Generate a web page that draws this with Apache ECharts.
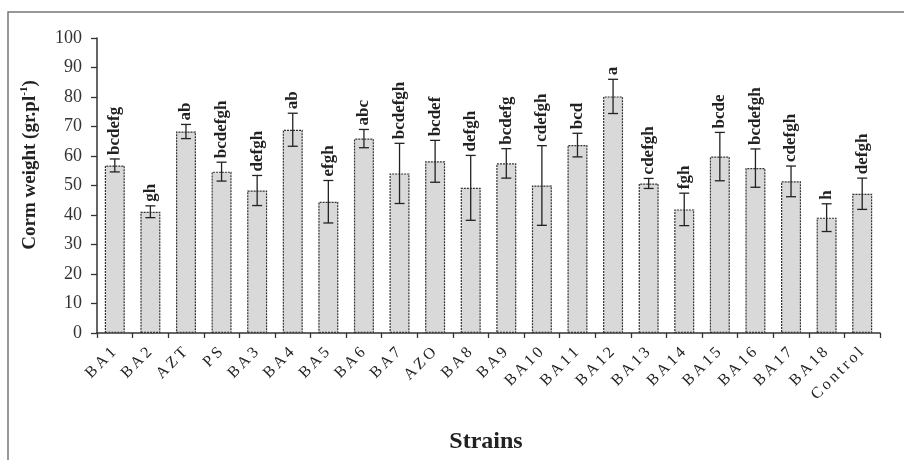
<!DOCTYPE html>
<html>
<head>
<meta charset="utf-8">
<script src="https://cdn.jsdelivr.net/npm/echarts@6/dist/echarts.min.js"></script>
<style>html,body{margin:0;padding:0;background:#fff;}#c{width:904px;height:460px;}</style>
</head>
<body>
<div id="c"></div>
<script>
const categories = ['BA1','BA2','AZT','PS','BA3','BA4','BA5','BA6','BA7','AZO','BA8','BA9','BA10','BA11','BA12','BA13','BA14','BA15','BA16','BA17','BA18','Control'];
const means = [56.8, 41.1, 68.3, 54.7, 48.3, 68.9, 44.5, 65.9, 54.1, 58.2, 49.2, 57.5, 50.0, 63.7, 80.2, 50.7, 41.9, 59.8, 55.9, 51.4, 39.1, 47.2];
const errors = [2.2, 2.0, 2.4, 3.2, 5.1, 5.6, 7.2, 3.1, 10.2, 7.1, 11.0, 5.0, 13.5, 4.0, 5.8, 1.7, 5.5, 8.2, 6.5, 5.2, 4.7, 5.3];
const letters = ['bcdefg','gh','ab','bcdefgh','defgh','ab','efgh','abc','bcdefgh','bcdef','defgh','bcdefg','cdefgh','bcd','a','cdefgh','fgh','bcde','bcdefgh','cdefgh','h','defgh'];
const yTicks = [0,10,20,30,40,50,60,70,80,90,100];

const SERIF = '"Liberation Serif", "DejaVu Serif", serif';
const chart = echarts.init(document.getElementById('c'));
const errData = categories.map((c, i) => [i, means[i], errors[i], letters[i]]);

chart.setOption({
  animation: false,
  backgroundColor: '#fff',
  grid: { left: 97, right: 24, top: 38, bottom: 127, containLabel: false },
  xAxis: {
    type: 'category',
    data: categories,
    boundaryGap: true,
    axisLine: { lineStyle: { color: '#333', width: 1.5 } },
    axisTick: { show: true, length: 5, lineStyle: { color: '#333', width: 1.3 } },
    axisLabel: {
      rotate: 45,
      margin: 16,
      color: '#222',
      interval: 0,
      formatter: v => v.split('').map(ch => '{c|' + ch + '}').join(''),
      rich: { c: { fontFamily: SERIF, fontSize: 16, color: '#222', padding: [0, 1.5, 0, 1.5] } }
    }
  },
  yAxis: {
    type: 'value',
    min: 0, max: 100, interval: 10,
    splitLine: { show: false },
    axisLine: { show: true, lineStyle: { color: '#333', width: 1.5 } },
    axisTick: { show: true, length: 6, lineStyle: { color: '#333', width: 1.3 } },
    axisLabel: {
      margin: 15, color: '#333', fontFamily: SERIF, fontSize: 18,
      formatter: v => yTicks.indexOf(v) >= 0 ? String(v) : ''
    }
  },
  graphic: [
    { type: 'rect', shape: { x: 8, y: 12, width: 910, height: 470 }, style: { fill: 'none', stroke: '#777', lineWidth: 1.5 }, silent: true },
    { type: 'text', x: 30, y: 165, rotation: Math.PI / 2,
      style: {
        text: '{m|Corm weight (gr.pl}{s|-1}{m|)}',
        align: 'center', verticalAlign: 'middle',
        rich: {
          m: { fontFamily: SERIF, fontSize: 19, fontWeight: 'bold', fill: '#222', lineHeight: 22 },
          s: { fontFamily: SERIF, fontSize: 11, fontWeight: 'bold', fill: '#222', verticalAlign: 'top', lineHeight: 22 }
        }
      }
    },
    { type: 'text', x: 486, y: 442,
      style: { text: 'Strains', fontFamily: SERIF, fontSize: 24, fontWeight: 'bold', fill: '#222', align: 'center', verticalAlign: 'middle' } }
  ],
  series: [
    {
      type: 'bar',
      data: means,
      barWidth: 20,
      z: 2,
      itemStyle: { color: '#d9d9d9', borderColor: '#333', borderWidth: 1.2, borderType: [2, 1] }
    },
    {
      type: 'custom',
      data: errData,
      z: 5,
      renderItem: function (params, api) {
        const i = api.value(0), m = api.value(1), e = api.value(2);
        const top = api.coord([i, m + e]);
        const bot = api.coord([i, m - e]);
        const x = top[0];
        const cap = 5;
        const ls = { stroke: '#222', lineWidth: 1.3 };
        return {
          type: 'group',
          children: [
            { type: 'line', shape: { x1: x, y1: top[1], x2: x, y2: bot[1] }, style: ls },
            { type: 'line', shape: { x1: x - cap, y1: top[1], x2: x + cap, y2: top[1] }, style: ls },
            { type: 'line', shape: { x1: x - cap, y1: bot[1], x2: x + cap, y2: bot[1] }, style: ls },
            { type: 'text', x: x, y: top[1] - 4, rotation: Math.PI / 2,
              style: { text: letters[i], fontFamily: SERIF, fontSize: 17, fontWeight: 'bold', fill: '#222', align: 'left', verticalAlign: 'middle' } }
          ]
        };
      }
    }
  ]
});
</script>
</body>
</html>
